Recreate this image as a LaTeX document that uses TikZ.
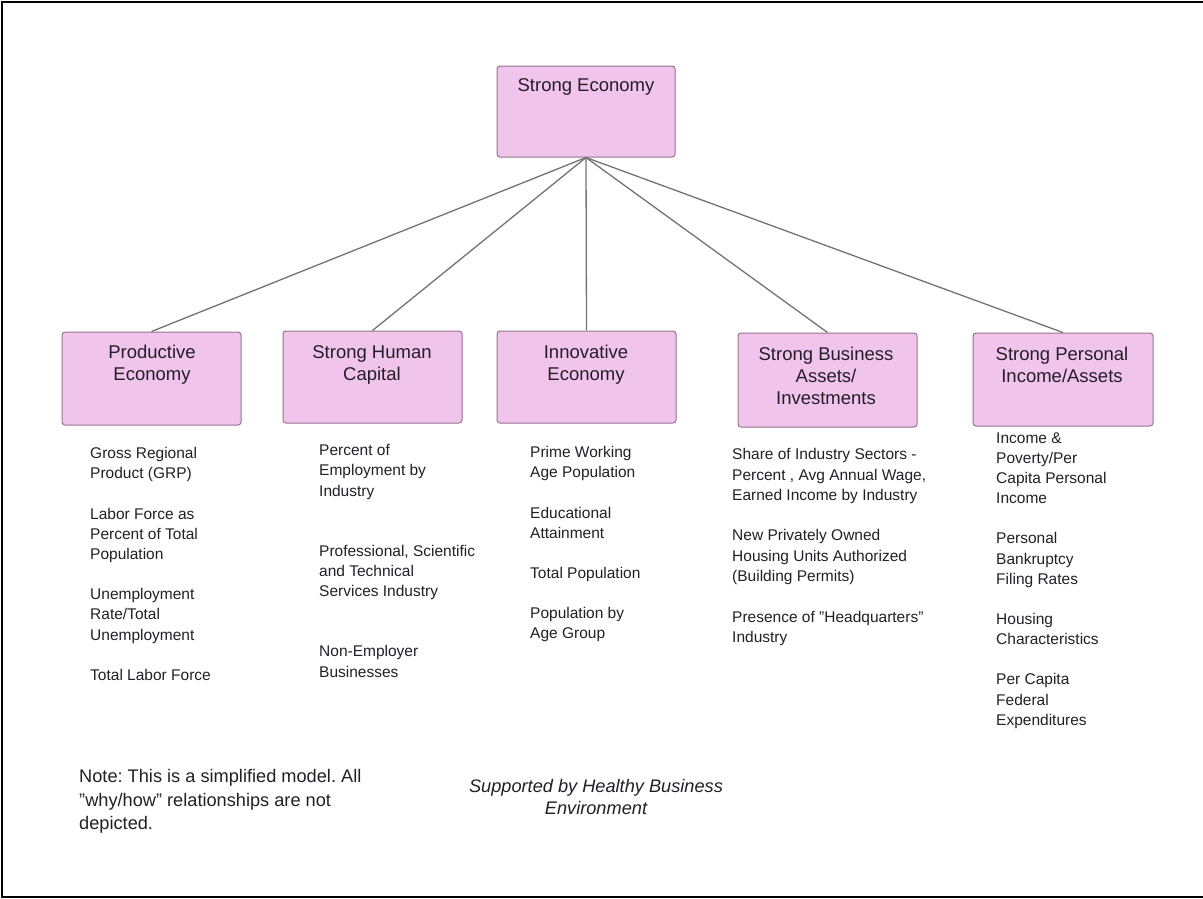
\documentclass[tikz,border=0pt]{standalone}
\usepackage{fontspec}
\setmainfont{Liberation Sans}
\frenchspacing
\definecolor{boxfill}{RGB}{241,196,236}
\definecolor{boxline}{RGB}{150,115,140}
\definecolor{txt}{RGB}{35,30,40}
\definecolor{linkgray}{RGB}{115,115,115}
\begin{document}
\begin{tikzpicture}[x=1pt,y=-1pt,
  box/.style={draw=boxline, fill=boxfill, rounded corners=3pt, line width=1pt, inner sep=0pt},
  title/.style={font=\fontsize{18.5}{22}\selectfont, align=center, text=txt, inner sep=0pt, anchor=north},
  item/.style={font=\fontsize{15.5}{20.2}\selectfont, align=left, text=txt, inner sep=0pt, anchor=north west},
  link/.style={draw=linkgray, line width=1.3pt},
  frame/.style={draw=black, line width=2pt}]
\useasboundingbox (0,0) rectangle (1203,898);
% frame
\coordinate (f1) at (1.5,897);
\coordinate (f2) at (1.5,1.5);
\coordinate (f3) at (1203,1.5);
\coordinate (f4) at (1203,897);
\draw[frame] (f3) -- (f2) -- (f1) -- (f4);
% boxes
\node[box, minimum width=178pt, minimum height=91pt] (top) at (586,111.5) {};
\node[box, minimum width=179pt, minimum height=93pt] (pe) at (151.5,378.5) {};
\node[box, minimum width=179pt, minimum height=92pt] (hc) at (372.5,377) {};
\node[box, minimum width=179pt, minimum height=92pt] (ie) at (586.5,377) {};
\node[box, minimum width=179pt, minimum height=94pt] (ba) at (827.5,380) {};
\node[box, minimum width=180pt, minimum height=93pt] (pi) at (1063,379.5) {};
% titles
\node[title] (topT) at (586,78) {Strong Economy};
\node[title] (peT) at (152,345) {Productive\\Economy};
\node[title] (hcT) at (372,345) {Strong Human\\Capital};
\node[title] (ieT) at (586,345) {Innovative\\Economy};
\node[title] (baT) at (826,347) {Strong Business\\Assets/\\Investments};
\node[title] (piT) at (1062,347) {Strong Personal\\Income/Assets};
% links
\draw[link] (top.south) -- (pe.north);
\draw[link] (top.south) -- (hc.north);
\draw[link] (top.south) -- (ie.north);
\draw[link] (top.south) -- (ba.north);
\draw[link] (top.south) -- (pi.north);
% indicator lists
\node[item] (peL) at (90,447.2) {Gross Regional\\Product (GRP)\\[20pt]Labor Force as\\Percent of Total\\Population\\[20pt]Unemployment\\Rate/Total\\Unemployment\\[20pt]Total Labor Force};
\node[item] (hcL) at (319,444.2) {Percent of\\Employment by\\Industry\\[40pt]Professional, Scientific\\and Technical\\Services Industry\\[40pt]Non-Employer\\Businesses};
\node[item] (ieL) at (530,446.2) {Prime Working\\Age Population\\[20pt]Educational\\Attainment\\[20pt]Total Population\\[20pt]Population by\\Age Group};
\node[item, font=\fontsize{15.5}{20.4}\selectfont] (baL) at (732,448.2) {Share of Industry Sectors -\\Percent , Avg Annual Wage,\\Earned Income by Industry\\[20pt]New Privately Owned\\Housing Units Authorized\\(Building Permits)\\[20pt]Presence of "Headquarters"\\Industry};
\node[item] (piL) at (996,432.2) {Income \&\\Poverty/Per\\Capita Personal\\Income\\[20pt]Personal\\Bankruptcy\\Filing Rates\\[20pt]Housing\\Characteristics\\[20pt]Per Capita\\Federal\\Expenditures};
% notes
\node[item, font=\fontsize{18.2}{23.5}\selectfont] (note) at (79,769.5) {Note: This is a simplified model. All\\"why/how" relationships are not\\depicted.};
\node[title, font=\fontsize{18.2}{22}\selectfont\itshape] (supp) at (596,779.4) {Supported by Healthy Business\\Environment};
\end{tikzpicture}
\end{document}
